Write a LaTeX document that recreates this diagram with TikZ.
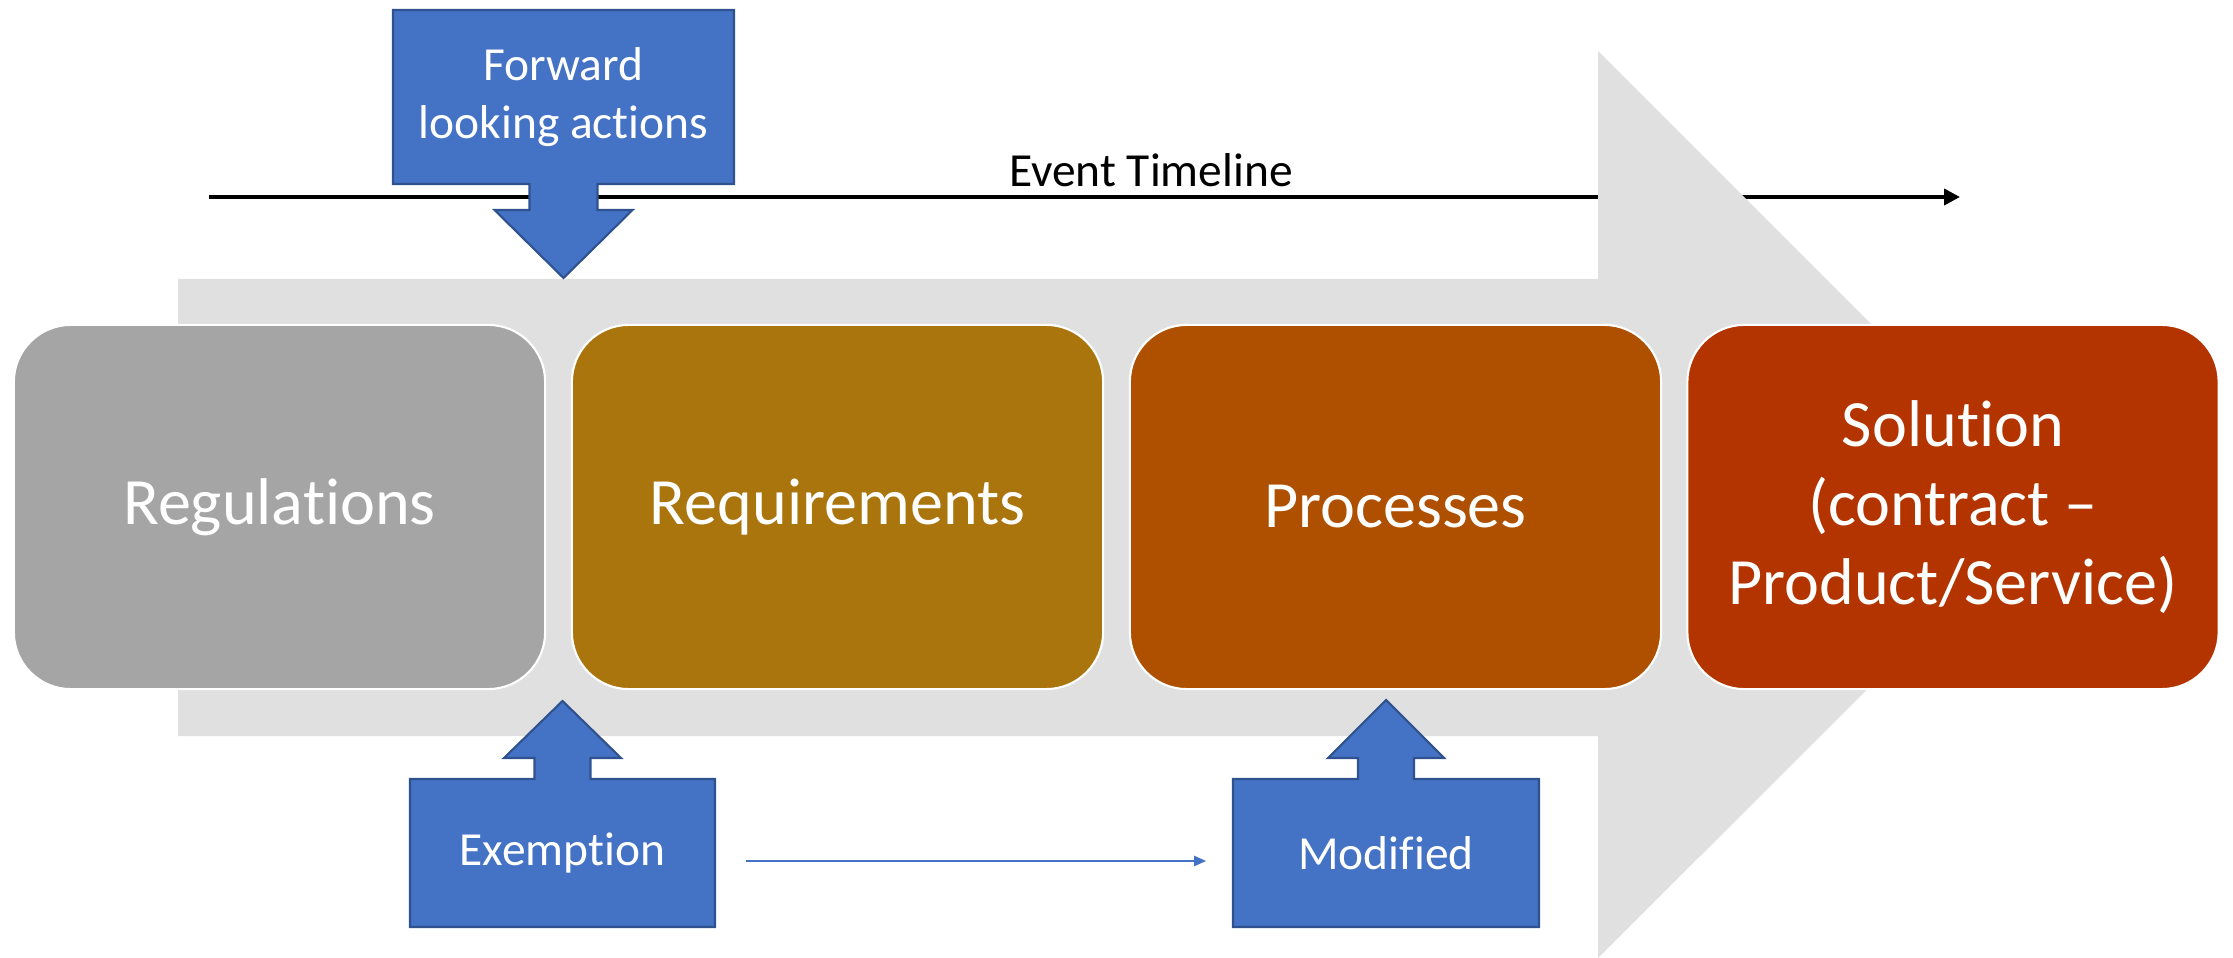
\documentclass[tikz,border=0pt]{standalone}
\usepackage{fontspec}
\setmainfont{Carlito}[Ligatures={TeX,CommonOff}]
\usetikzlibrary{arrows.meta}

\definecolor{regfill}{RGB}{165,165,165}
\definecolor{reqfill}{RGB}{171,117,14}
\definecolor{procfill}{RGB}{174,80,0}
\definecolor{solfill}{RGB}{180,52,0}
\definecolor{bluefill}{RGB}{68,114,196}
\definecolor{blueline}{RGB}{47,82,143}
\definecolor{bandgray}{RGB}{224,224,224}

\tikzset{
    stage/.style={rounded corners=0.57cm, draw=white, line width=0.6pt, minimum width=5.31cm, minimum height=3.64cm, text=white, align=center, font=\fontsize{18.8}{22.5}\selectfont},
    callout/.style={fill=bluefill, draw=blueline, line width=0.6pt, line join=miter},
    callouttext/.style={text=white, align=center, font=\fontsize{13.5}{16.5}\selectfont},
    timeline/.style={line width=1.1pt, -{Triangle[length=0.16cm, width=0.16cm]}},
    flow/.style={bluefill, line width=0.6pt, -{Triangle[length=0.12cm, width=0.1cm]}},
}

\begin{document}
\begin{tikzpicture}[x=0.01cm, y=-0.01cm]

    \useasboundingbox (0, 0) rectangle (2233, 958);

    % Timeline
    \coordinate (tstart) at (209, 197);
    \coordinate (tend) at (1960, 197);
    \draw[timeline] (tstart) -- (tend);
    \node[anchor=base, font=\fontsize{13.5}{16.5}\selectfont] (tlabel) at (1151, 187) {Event Timeline};

    % Big gray arrow
    \fill[bandgray] (178, 279) -- (1598, 279) -- (1598, 51) -- (2052, 505) -- (1598, 958) -- (1598, 736) -- (178, 736) -- cycle;

    % Stages
    \node[stage, fill=regfill] (reg) at (279.5, 507) {Regulations};
    \node[stage, fill=reqfill] (req) at (837.5, 507) {Requirements};
    \node[stage, fill=procfill] (proc) at (1395.5, 507) {Processes};
    \node[stage, fill=solfill] (sol) at (1953, 507) {Solution\\(contract –\\Product/Service)};

    % Callouts
    \draw[callout] (393, 10) -- (734, 10) -- (734, 184) -- (597.5, 184) -- (597.5, 210) -- (632.5, 210) -- (563.5, 278) -- (494.5, 210) -- (529.5, 210) -- (529.5, 184) -- (393, 184) -- cycle;
    \node[callouttext] (fwd) at (563.5, 97) {Forward\\looking actions};

    \draw[callout] (410, 779) -- (534.5, 779) -- (534.5, 758) -- (504, 758) -- (562.5, 701) -- (621, 758) -- (590.5, 758) -- (590.5, 779) -- (715, 779) -- (715, 927) -- (410, 927) -- cycle;
    \node[callouttext, minimum width=3.05cm] (exm) at (562.5, 853) {Exemption};

    \draw[callout] (1233, 779) -- (1358, 779) -- (1358, 758) -- (1328, 758) -- (1386, 700) -- (1444, 758) -- (1414, 758) -- (1414, 779) -- (1539, 779) -- (1539, 927) -- (1233, 927) -- cycle;
    \node[callouttext, minimum width=3.06cm] (mod) at (1386, 853) {Modified};

    \draw[flow, shorten <=0.3cm, shorten >=0.26cm] ([yshift=-0.08cm]exm.east) -- ([yshift=-0.08cm]mod.west);
\end{tikzpicture}
\end{document}
